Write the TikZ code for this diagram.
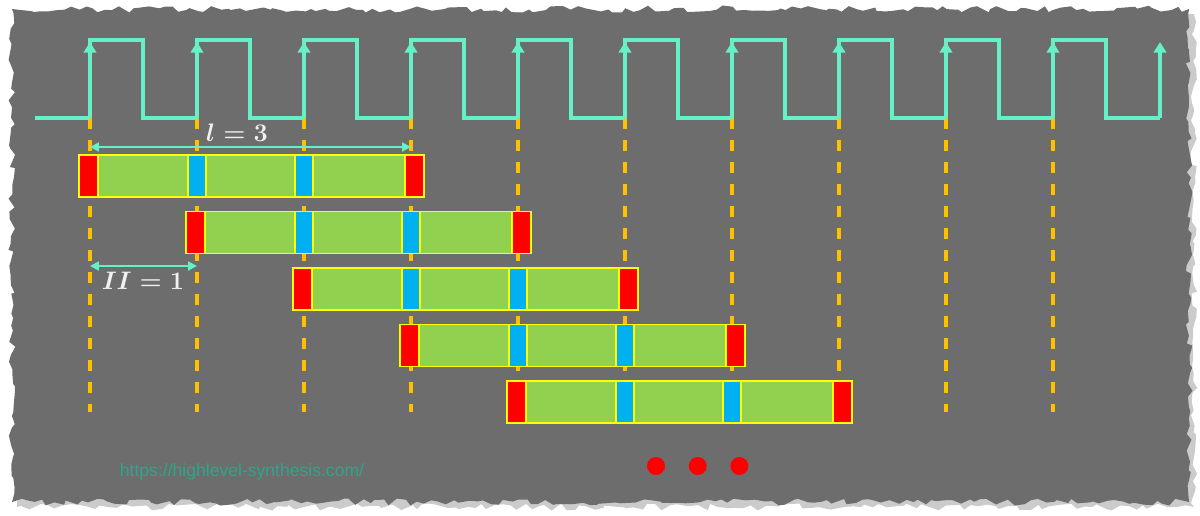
\documentclass[tikz,border=0pt]{standalone}
\usepackage{amsmath}
\usepackage{amssymb}
\usepackage{fontspec}
\newfontfamily\urlfont{Liberation Sans}
\usepackage{tikz}
\usetikzlibrary{positioning, arrows.meta, decorations.pathmorphing}
\definecolor{fondo}{RGB}{109,109,109}
\definecolor{menta}{RGB}{102,240,200}
\definecolor{naranja}{RGB}{255,192,0}
\definecolor{verde}{RGB}{146,208,80}
\definecolor{azul}{RGB}{0,176,240}
\definecolor{amarillo}{RGB}{255,255,0}
\definecolor{enlace}{RGB}{42,168,138}
\tikzset{
    papel/.style={fill=fondo, decorate, decoration={random steps, segment length=4pt, amplitude=2pt}},
    sombra/.style={fill=black!40, opacity=0.5, decorate, decoration={random steps, segment length=4pt, amplitude=2pt}},
    senal_reloj/.style={draw=menta, line width=1.9pt},
    flanco/.style={draw=menta, line width=1.9pt, -{Triangle[length=6pt, width=7pt]}},
    linea_guia/.style={draw=naranja, line width=1.9pt, dash pattern=on 6.5pt off 6pt},
    barra/.style={rectangle, draw=amarillo, fill=verde, line width=1.1pt, minimum width=6.9cm, minimum height=0.84cm, inner sep=0pt},
    bloque_rojo/.style={rectangle, draw=amarillo, fill=red, line width=1.1pt, minimum width=0.38cm, minimum height=0.84cm, inner sep=0pt},
    bloque_azul/.style={rectangle, draw=amarillo, fill=azul, line width=1.1pt, minimum width=0.36cm, minimum height=0.84cm, inner sep=0pt},
    flecha/.style={draw=menta, line width=1.1pt, {Triangle[length=5pt, width=5pt]}-{Triangle[length=5pt, width=5pt]}},
    etiqueta/.style={text=white!90!fondo, font=\Large\boldmath, inner sep=0pt},
    punto/.style={circle, fill=red, minimum size=0.36cm, inner sep=0pt}
}

\begin{document}
\begin{tikzpicture}[x=0.02cm, y=-0.02cm]

    % 1. Fondo (papel rasgado)
    \useasboundingbox (0,0) rectangle (1200,515);
    \fill[white] (0,0) rectangle (1200,515);
    \pgfmathsetseed{7}
    \fill[sombra] (17,14) rectangle (1194,507);
    \pgfmathsetseed{3}
    \fill[papel] (12,9) rectangle (1189,502);

    % 2. Flancos de subida y lineas guia
    \foreach \k in {0,...,9} {
        \pgfmathsetmacro{\e}{90+107*\k}
        \coordinate (f\k) at (\e,118);
        \draw[linea_guia] (f\k) -- ++(0,294);
    }

    % 3. Senal de reloj
    \draw[senal_reloj] (35,118) -- (f0);
    \foreach \k in {0,...,9} {
        \pgfmathsetmacro{\e}{90+107*\k}
        \draw[senal_reloj] (f\k) |- (\e+53,40) |- (\e+107,118);
        \draw[flanco] (f\k) -- (\e,42);
    }
    \coordinate (f10) at (1160,118);
    \draw[flanco] (f10) -- (1160,42);

    % 4. Iteraciones segmentadas (una fila por iteracion)
    \foreach \r in {0,...,4} {
        \pgfmathsetmacro{\e}{90+107*\r}
        \pgfmathsetmacro{\yc}{176+56.5*\r}
        \node[barra] (barra\r) at (\e+161.5,\yc) {};
        \node[bloque_rojo] (ini\r) at (\e-1.5,\yc) {};
        \node[bloque_azul] (etapa\r a) at (\e+107,\yc) {};
        \node[bloque_azul] (etapa\r b) at (\e+214,\yc) {};
        \node[bloque_rojo] (fin\r) at (\e+324.5,\yc) {};
    }

    % --- COTAS ---
    \coordinate (cota_l_a) at (90,147);
    \coordinate (cota_l_b) at (411,147);
    \draw[flecha] (cota_l_a) -- (cota_l_b);
    \node[etiqueta] (lbl_l) at (237,133) {$l=3$};

    \coordinate (cota_ii_a) at (90,266);
    \coordinate (cota_ii_b) at (197,266);
    \draw[flecha] (cota_ii_a) -- (cota_ii_b);
    \node[etiqueta] (lbl_ii) at (143,281) {$II=1$};

    % 5. Puntos suspensivos y enlace
    \node[punto] (p1) at (656,466) {};
    \node[punto, right=0.46cm of p1] (p2) {};
    \node[punto, right=0.46cm of p2] (p3) {};

    \node[font=\urlfont\fontsize{10}{12}\selectfont, text=enlace] (web) at (242,472) {https://highlevel-synthesis.com/};

\end{tikzpicture}
\end{document}
